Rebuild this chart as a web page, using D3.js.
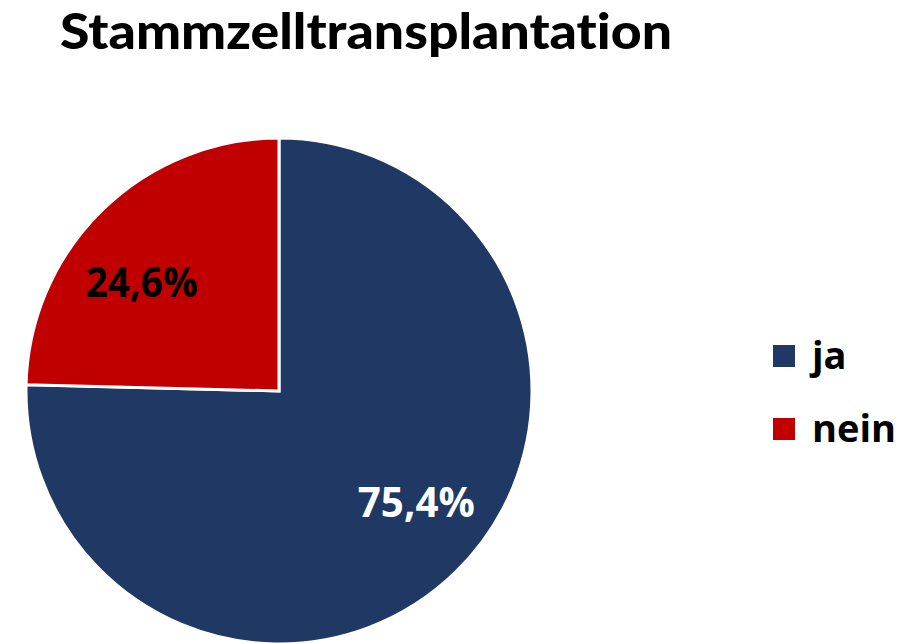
<!DOCTYPE html>
<html>
<head>
<meta charset="utf-8">
<script src="https://cdn.jsdelivr.net/npm/d3@7"></script>
<style>
  html, body { margin: 0; padding: 0; background: #ffffff; }
  svg { display: block; }
  text { font-family: "Open Sans", "Lato", "DejaVu Sans", sans-serif; font-weight: bold; }
  text.title { font-family: "Lato", "Open Sans", sans-serif; font-weight: 900; font-variant-ligatures: none; font-feature-settings: "liga" 0, "dlig" 0; }
</style>
</head>
<body>
<svg id="chart" width="921" height="643"></svg>
<script>
// ---- data ----
const title = "Stammzelltransplantation";
const categories = ["ja", "nein"];
const values = [75.4, 24.6];
const valueLabels = ["75,4%", "24,6%"];
const colors = ["#203864", "#C00000"];
const labelColors = ["#ffffff", "#000000"];

// ---- layout ----
const W = 921, H = 643;
const cx = 279, cy = 391, R = 253;
const svg = d3.select("#chart");

// title
svg.append("text")
  .attr("class", "title")
  .attr("x", 60).attr("y", 49)
  .attr("font-size", 49)
  .attr("fill", "#000")
  .attr("textLength", 612)
  .attr("lengthAdjust", "spacingAndGlyphs")
  .text(title);

const pie = d3.pie().sort(null).value(d => d.v).startAngle(0).endAngle(2 * Math.PI);
const data = categories.map((c, i) => ({ c, v: values[i], i }));
const arcs = pie(data);
const arc = d3.arc().innerRadius(0).outerRadius(R);

const g = svg.append("g").attr("transform", `translate(${cx},${cy})`);
g.selectAll("path.slice").data(arcs).enter().append("path")
  .attr("class", "slice")
  .attr("d", arc)
  .attr("fill", d => colors[d.data.i])
  .attr("stroke", "#ffffff")
  .attr("stroke-width", 3)
  .attr("stroke-linejoin", "miter");

// data labels
const labelR = 176;
const shift = 7 * Math.PI / 180;
const labelWidths = [117, 112];
const labelAngle = d => (d.startAngle + d.endAngle) / 2 - shift;
g.selectAll("text.lbl").data(arcs).enter().append("text")
  .attr("class", "lbl")
  .attr("text-anchor", "middle")
  .attr("font-size", 42)
  .attr("fill", d => labelColors[d.data.i])
  .attr("textLength", d => labelWidths[d.data.i])
  .attr("lengthAdjust", "spacingAndGlyphs")
  .attr("x", d => labelR * Math.sin(labelAngle(d)))
  .attr("y", d => -labelR * Math.cos(labelAngle(d)) + 16)
  .text(d => valueLabels[d.data.i]);

// legend
const legend = svg.append("g").attr("transform", "translate(773,345)");
const legendY = d3.scaleBand().domain(categories).range([0, 146]).paddingInner(0);
const items = legend.selectAll("g.item").data(categories).enter().append("g")
  .attr("class", "item")
  .attr("transform", c => `translate(0,${legendY(c)})`);
items.append("rect")
  .attr("width", 22).attr("height", 22)
  .attr("fill", (c, i) => colors[i]);
items.append("text")
  .attr("x", 39).attr("y", 24)
  .attr("font-size", 38)
  .attr("fill", "#000")
  .text(c => c);
</script>
</body>
</html>
